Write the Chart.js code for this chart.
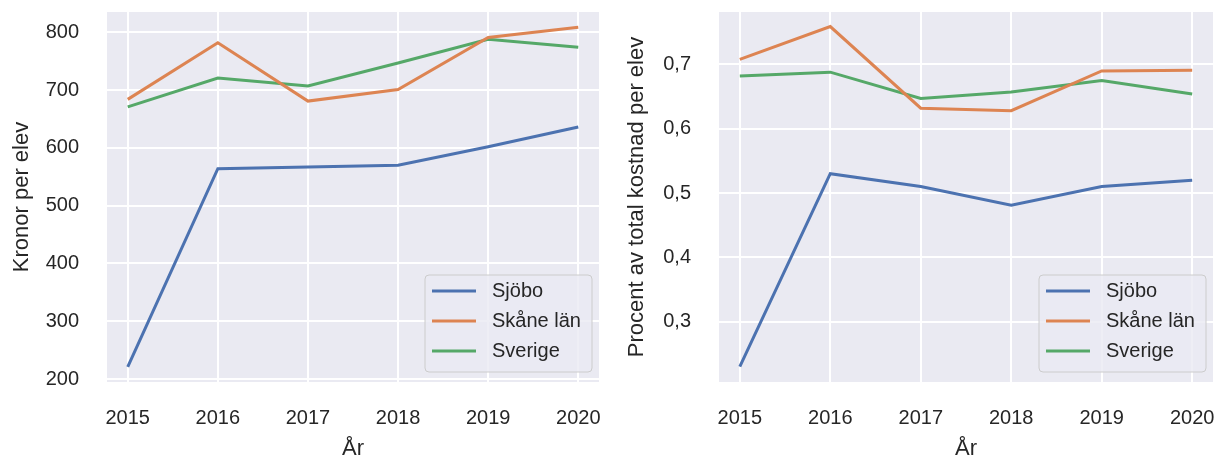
<!DOCTYPE html>
<html>
<head>
<meta charset="utf-8">
<script src="https://cdn.jsdelivr.net/npm/chart.js@4/dist/chart.umd.min.js"></script>
<style>
  html, body { margin: 0; padding: 0; background: #fff; }
  #wrap { position: relative; width: 1217px; height: 459px; }
  canvas { position: absolute; top: 0; }
</style>
</head>
<body>
<div id="wrap">
  <canvas id="kronorChart" width="608" height="459" style="left:0"></canvas>
  <canvas id="procentChart" width="609" height="459" style="left:608px"></canvas>
</div>
<script>
const years = [2015, 2016, 2017, 2018, 2019, 2020];
const seriesNames = ['Sjöbo', 'Skåne län', 'Sverige'];
const seriesColors = ['#4C72B0', '#DD8452', '#55A868'];

const kronorSjobo = [221, 564, 567, 570, 602, 636];
const kronorSkane = [684, 782, 681, 701, 791, 809];
const kronorSverige = [671, 721, 707, 747, 788, 774];

const procentSjobo = [0.23, 0.53, 0.51, 0.481, 0.51, 0.52];
const procentSkane = [0.708, 0.759, 0.632, 0.628, 0.69, 0.691];
const procentSverige = [0.682, 0.688, 0.647, 0.657, 0.675, 0.654];

const kronorTicks = [200, 300, 400, 500, 600, 700, 800];
const procentTicks = [0.3, 0.4, 0.5, 0.6, 0.7];

const fontFamily = '"Liberation Sans", Arial, Helvetica, sans-serif';
const textColor = '#262626';

// grey plot background
const plotBackground = {
    id: 'plotBackground',
    beforeDraw(chart) {
        const { ctx, chartArea: a } = chart;
        ctx.save();
        ctx.fillStyle = '#EAEAF2';
        ctx.fillRect(a.left, a.top, a.right - a.left, a.bottom - a.top);
        ctx.restore();
    }
};

// legend box in the lower right corner of the plot
const innerLegend = {
    id: 'innerLegend',
    afterDatasetsDraw(chart) {
        const { ctx, chartArea: a } = chart;
        const w = 167, h = 97;
        const x = a.right - 7 - w, y = a.bottom - 10 - h;
        ctx.save();
        ctx.beginPath();
        ctx.roundRect(x, y, w, h, 4);
        ctx.fillStyle = 'rgba(234,234,242,0.8)';
        ctx.fill();
        ctx.strokeStyle = '#CCCCCC';
        ctx.lineWidth = 1;
        ctx.stroke();
        ctx.font = '20px ' + fontFamily;
        ctx.textBaseline = 'middle';
        chart.data.datasets.forEach((ds, i) => {
            const ly = y + 16 + i * 30;
            ctx.beginPath();
            ctx.moveTo(x + 7, ly);
            ctx.lineTo(x + 51, ly);
            ctx.strokeStyle = ds.borderColor;
            ctx.lineWidth = 3;
            ctx.stroke();
            ctx.fillStyle = textColor;
            ctx.fillText(ds.label, x + 67, ly);
        });
        ctx.restore();
    }
};

function noPadding(scale) {
    scale.paddingLeft = 0;
    scale.paddingRight = 0;
    scale.paddingTop = 0;
    scale.paddingBottom = 0;
}

function makeDatasets(seriesValues) {
    return seriesValues.map((vals, i) => ({
        label: seriesNames[i],
        data: years.map((yr, j) => ({ x: yr, y: vals[j] })),
        borderColor: seriesColors[i],
        backgroundColor: seriesColors[i],
        borderWidth: 3,
        pointRadius: 0,
        tension: 0
    }));
}

function makeChart(canvasId, seriesValues, yTicks, yMin, yMax, yTitle, yFormat, axisWidth, padRight, yTitlePad) {
    const ctx = document.getElementById(canvasId).getContext('2d');
    return new Chart(ctx, {
        type: 'line',
        data: { datasets: makeDatasets(seriesValues) },
        plugins: [plotBackground, innerLegend],
        options: {
            responsive: false,
            animation: false,
            devicePixelRatio: 1,
            layout: { padding: { top: 12, right: padRight, bottom: 0, left: 0 } },
            plugins: { legend: { display: false }, tooltip: { enabled: false } },
            scales: {
                x: {
                    type: 'linear',
                    min: 2014.77,
                    max: 2020.23,
                    afterBuildTicks: scale => { scale.ticks = years.map(v => ({ value: v })); },
                    afterFit: scale => { scale.height = 77; noPadding(scale); },
                    border: { display: false },
                    grid: { color: '#FFFFFF', lineWidth: 2, drawTicks: false },
                    ticks: {
                        padding: 24,
                        color: textColor,
                        font: { family: fontFamily, size: 20 },
                        maxRotation: 0,
                        callback: v => String(v)
                    },
                    title: {
                        display: true,
                        text: 'År',
                        color: textColor,
                        font: { family: fontFamily, size: 22, lineHeight: 1 },
                        padding: { top: 0, bottom: -1 }
                    }
                },
                y: {
                    min: yMin,
                    max: yMax,
                    afterBuildTicks: scale => { scale.ticks = yTicks.map(v => ({ value: v })); },
                    afterFit: scale => { scale.width = axisWidth; noPadding(scale); },
                    border: { display: false },
                    grid: { color: '#FFFFFF', lineWidth: 2, drawTicks: false },
                    ticks: {
                        padding: 28,
                        color: textColor,
                        font: { family: fontFamily, size: 20 },
                        callback: yFormat
                    },
                    title: {
                        display: true,
                        text: yTitle,
                        color: textColor,
                        font: { family: fontFamily, size: 22, lineHeight: 1.2 },
                        padding: { top: yTitlePad, bottom: 0 }
                    }
                }
            }
        }
    });
}

makeChart('kronorChart', [kronorSjobo, kronorSkane, kronorSverige], kronorTicks,
    194.8, 835.2, 'Kronor per elev', v => String(v), 107, 9, 9);

makeChart('procentChart', [procentSjobo, procentSkane, procentSverige], procentTicks,
    0.206, 0.7816, 'Procent av total kostnad per elev', v => v.toFixed(1).replace('.', ','), 111, 4, 16);
</script>
</body>
</html>
